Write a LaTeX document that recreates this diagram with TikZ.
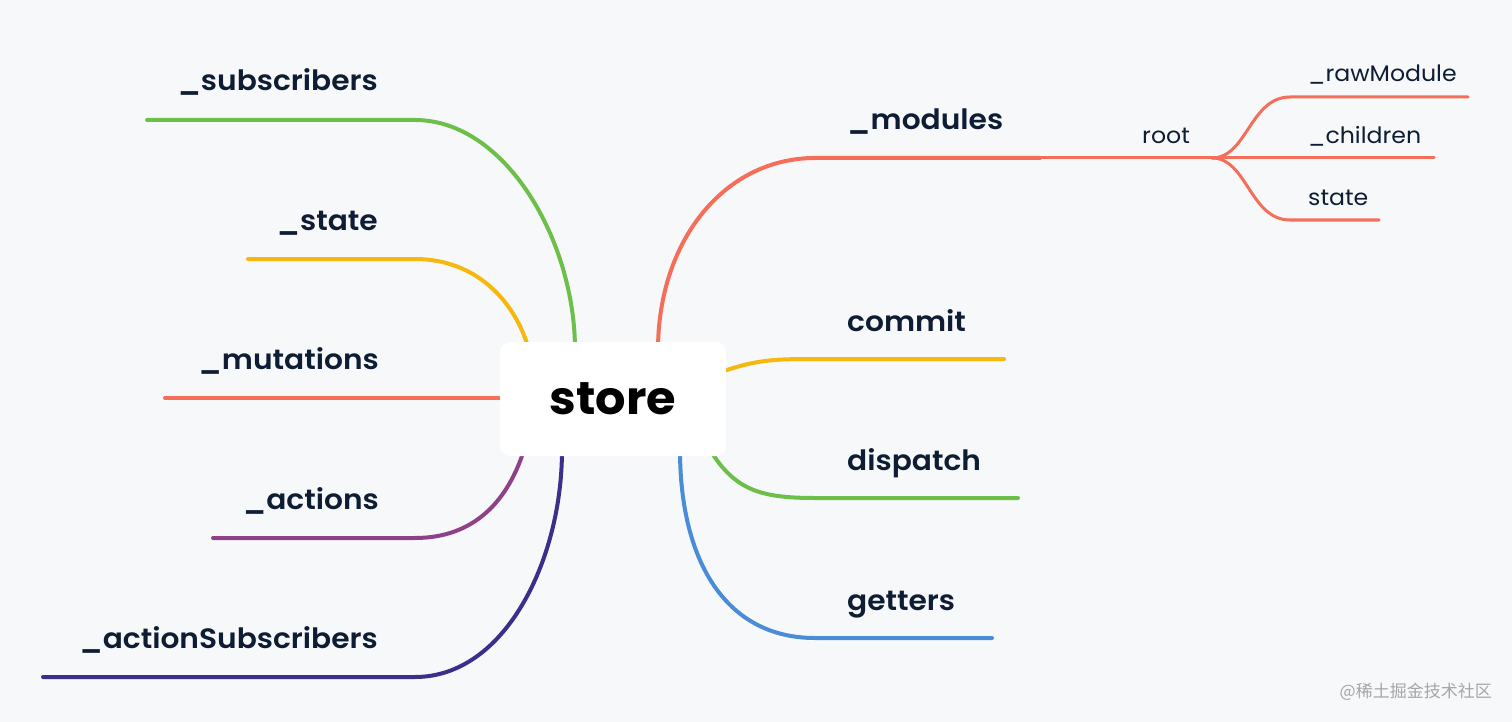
\documentclass[tikz,border=0pt]{standalone}
\usepackage{fontspec}
\setmainfont{Poppins}
\newfontfamily\lblfont{Poppins SemiBold}[FakeStretch=1.06]
\newfontfamily\subfont{Poppins}[FakeStretch=1.05]
\newfontfamily\storefont{Poppins Bold}[FakeStretch=1.04]
\newfontfamily\cjkfont{Noto Sans CJK SC}
\definecolor{bgc}{HTML}{F7F8FA}
\definecolor{txt}{HTML}{0E1D33}
\definecolor{cgreen}{HTML}{6CC04A}
\definecolor{cyellow}{HTML}{F6B80C}
\definecolor{cred}{HTML}{F46E5A}
\definecolor{cpurple}{HTML}{8E4189}
\definecolor{cindigo}{HTML}{3E2E8C}
\definecolor{cblue}{HTML}{4A8CD6}
\tikzset{
  branch/.style={line width=4pt, line cap=round},
  subbranch/.style={line width=3pt, line cap=round},
  lbl/.style={font=\lblfont\fontsize{28}{32}\selectfont, text=txt, inner sep=0pt},
  sublbl/.style={font=\subfont\fontsize{22.5}{26}\selectfont, text=txt, inner sep=0pt},
}
\begin{document}
\begin{tikzpicture}[x=1pt,y=-1pt]
\useasboundingbox (0,0) rectangle (1512,722);
\fill[bgc] (0,0) rectangle (1512,722);

% coordinates
\coordinate (s1) at (575,350); \coordinate (k1) at (415,120); \coordinate (e1) at (147,120);
\coordinate (s2) at (529,350); \coordinate (k2) at (415,259); \coordinate (e2) at (248,259);
\coordinate (s3) at (510,398); \coordinate (e3) at (165,398);
\coordinate (s4) at (524,450); \coordinate (k4) at (415,538); \coordinate (e4) at (213,538);
\coordinate (s5) at (562,450); \coordinate (k5) at (415,677); \coordinate (e5) at (43,677);
\coordinate (s6) at (658,350); \coordinate (k6) at (815,158); \coordinate (e6) at (1040,158);
\coordinate (s7) at (715,374); \coordinate (k7) at (815,359); \coordinate (e7) at (1004,359);
\coordinate (s8) at (710,450); \coordinate (k8) at (815,498); \coordinate (e8) at (1018,498);
\coordinate (s9) at (680,450); \coordinate (k9) at (815,638); \coordinate (e9) at (992,638);
\coordinate (J) at (1212,158);
\coordinate (ka) at (1290,97); \coordinate (ea) at (1468,97);
\coordinate (eb) at (1434,158);
\coordinate (kc) at (1290,220); \coordinate (ec) at (1379,220);

% left branches
\draw[branch,cgreen] (s1) .. controls +(0,-110) and +(90,0) .. (k1) -- (e1);
\draw[branch,cyellow] (s2) .. controls +(-14,-50) and +(60,0) .. (k2) -- (e2);
\draw[branch,cred] (s3) -- (e3);
\draw[branch,cpurple] (s4) .. controls +(-16,50) and +(60,0) .. (k4) -- (e4);
\draw[branch,cindigo] (s5) .. controls +(0,110) and +(90,0) .. (k5) -- (e5);
% right branches
\draw[branch,cred] (s6) .. controls +(0,-110) and +(-90,0) .. (k6) -- (e6);
\draw[branch,cyellow] (s7) .. controls +(40,-14) and +(-45,0) .. (k7) -- (e7);
\draw[branch,cgreen] (s8) .. controls +(25,40) and +(-55,0) .. (k8) -- (e8);
\draw[branch,cblue] (s9) .. controls +(0,110) and +(-90,0) .. (k9) -- (e9);
% root sub-branches
\draw[subbranch,cred] (e6) -- (J);
\draw[subbranch,cred] (J) .. controls +(35,0) and +(-40,0) .. (ka) -- (ea);
\draw[subbranch,cred] (J) -- (eb);
\draw[subbranch,cred] (J) .. controls +(35,0) and +(-40,0) .. (kc) -- (ec);

% central node
\node[fill=white, rounded corners=10pt, minimum width=226pt, minimum height=114pt, inner sep=0pt]
  (store) at (613,399) {\storefont\fontsize{46}{52}\selectfont store};

% labels
\node[lbl, anchor=base east] (l1) at (378,91) {\_subscribers};
\node[lbl, anchor=base east] (l2) at (378,230) {\_state};
\node[lbl, anchor=base east] (l3) at (379,369) {\_mutations};
\node[lbl, anchor=base east] (l4) at (379,509) {\_actions};
\node[lbl, anchor=base east] (l5) at (378,648) {\_actionSubscribers};
\node[lbl, anchor=base west] (r1) at (847,130) {\_modules};
\node[lbl, anchor=base west] (r2) at (847,331) {commit};
\node[lbl, anchor=base west] (r3) at (847,470) {dispatch};
\node[lbl, anchor=base west] (r4) at (847,610) {getters};
\node[sublbl, anchor=base west] (root) at (1142,144) {root};
\node[sublbl, anchor=base west] (sa) at (1308,82) {\_rawModule};
\node[sublbl, anchor=base west] (sb) at (1308,144) {\_children};
\node[sublbl, anchor=base west] (sc) at (1308,206) {state};

\node[anchor=base east, inner sep=0pt, text=black!35, font=\cjkfont\fontsize{17}{20}\selectfont] (wm) at (1492,697) {@稀土掘金技术社区};
\end{tikzpicture}
\end{document}
